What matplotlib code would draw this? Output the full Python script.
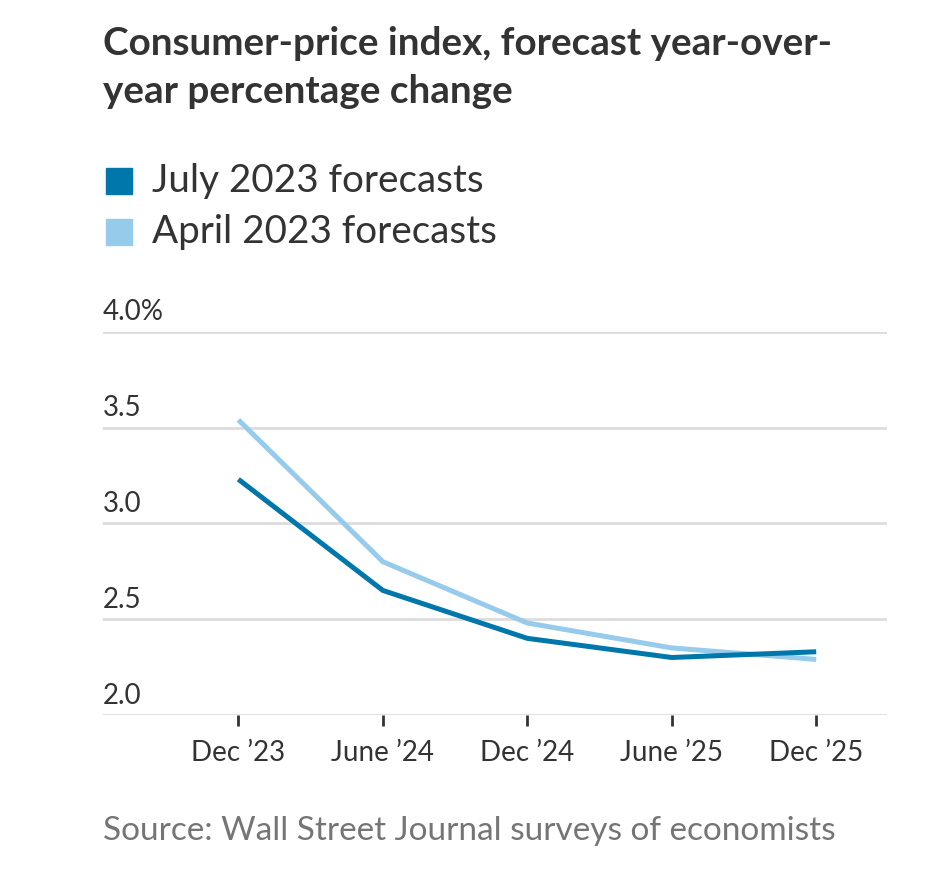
import matplotlib
matplotlib.use("Agg")
import matplotlib.pyplot as plt

# data
periods = ["Dec \u201923", "June \u201924", "Dec \u201924", "June \u201925", "Dec \u201925"]
july_2023 = [3.23, 2.65, 2.40, 2.30, 2.33]
april_2023 = [3.54, 2.80, 2.48, 2.35, 2.29]
y_ticks = [2.0, 2.5, 3.0, 3.5, 4.0]
y_labels = ["2.0", "2.5", "3.0", "3.5", "4.0%"]

DARK = "#0077AA"
LIGHT = "#96CBEC"
TEXT = "#333333"
W, H = 936, 886

fig = plt.figure(figsize=(W / 100, H / 100), dpi=100)

def px(x, y):
    return x / W, 1 - y / H

# axes placement in pixels
left, right, top, bottom = 103, 887, 331.7, 715
ax = fig.add_axes([left / W, 1 - bottom / H, (right - left) / W, (bottom - top) / H])

xs = list(range(len(periods)))
ax.plot(xs, april_2023, color=LIGHT, lw=3.6, solid_capstyle="butt", clip_on=False, zorder=3)
ax.plot(xs, july_2023, color=DARK, lw=3.6, solid_capstyle="butt", clip_on=False, zorder=4)

ax.set_xlim(-0.937, 4.49)
ax.set_ylim(2.0, 4.0)
for sp in ax.spines.values():
    sp.set_visible(False)
ax.set_yticks(y_ticks)
ax.yaxis.grid(True, color="#dddddd", lw=2)
ax.tick_params(axis="y", length=0, labelleft=False)
ax.set_xticks(xs)
ax.set_xticklabels(periods, fontsize=20, color=TEXT, family="Lato")
ax.tick_params(axis="x", length=8, width=2, color=TEXT, pad=10)
ax.set_axisbelow(True)

for v, lab in zip(y_ticks, y_labels):
    ax.annotate(lab, xy=(0, v), xycoords=("axes fraction", "data"),
                xytext=(0, 4.5), textcoords="offset points", ha="left", va="bottom",
                fontsize=20, color=TEXT, family="Lato")

# title
fig.text(*px(103, 55), "Consumer-price index, forecast year-over-", fontsize=27.8,
         fontweight="bold", color=TEXT, family="Lato", va="baseline")
fig.text(*px(103, 103), "year percentage change", fontsize=27.8,
         fontweight="bold", color=TEXT, family="Lato", va="baseline")

# legend
for y, col, lab in [(181, DARK, "July 2023 forecasts"), (232, LIGHT, "April 2023 forecasts")]:
    fig.patches.append(plt.Rectangle(px(106, y + 13), 26 / W, 26 / H, color=col,
                                     transform=fig.transFigure, figure=fig))
    fig.text(*px(152, y + 11), lab, fontsize=27.8, color=TEXT,
             family="Lato", va="baseline")

# source
fig.text(*px(103, 840), "Source: Wall Street Journal surveys of economists", fontsize=24,
         color="#757575", family="Lato", va="baseline")

fig.savefig("out.png", dpi=100, facecolor="white")
